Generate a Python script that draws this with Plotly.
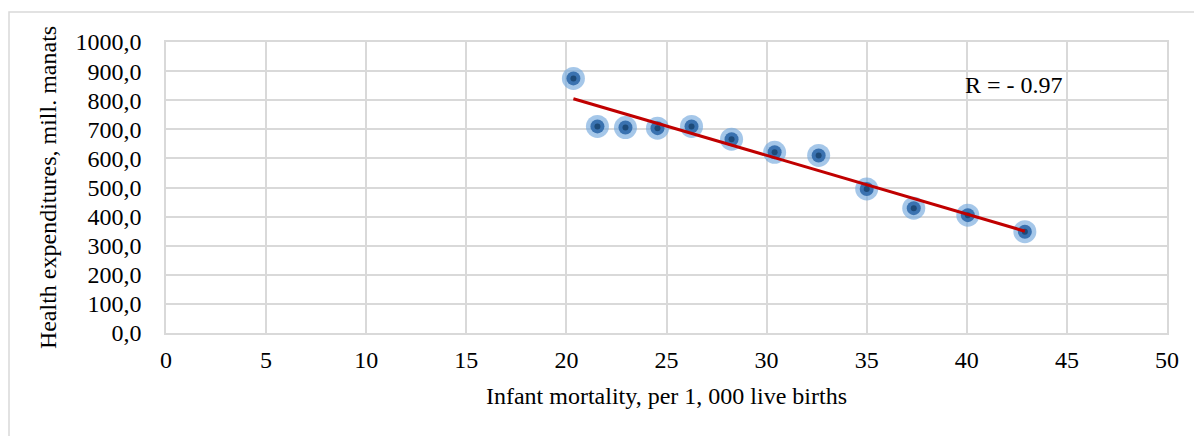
import numpy as np
import plotly.graph_objects as go

infant_mortality = [20.35, 21.55, 22.95, 24.55, 26.25, 28.25, 30.4, 32.6, 35.0, 37.35, 40.05, 42.9]
health_expenditures = [875, 710, 706, 704, 710, 666, 621, 610, 495, 429, 405, 348]
x_ticks = [0, 5, 10, 15, 20, 25, 30, 35, 40, 45, 50]
y_ticks = [0, 100, 200, 300, 400, 500, 600, 700, 800, 900, 1000]

FONT = "Liberation Serif, Times New Roman, serif"
FS = 24

slope, intercept = np.polyfit(infant_mortality, health_expenditures, 1)
x_fit = [min(infant_mortality), max(infant_mortality)]
y_fit = [slope * v + intercept for v in x_fit]

fig = go.Figure()
fig.add_trace(go.Scatter(x=infant_mortality, y=health_expenditures, mode="markers",
                         marker=dict(size=23, color="rgba(110,165,220,0.62)", line=dict(width=0)),
                         hoverinfo="skip", showlegend=False))
fig.add_trace(go.Scatter(x=infant_mortality, y=health_expenditures, mode="markers",
                         marker=dict(size=14, color="#3a72b0", line=dict(width=0)),
                         hoverinfo="skip", showlegend=False))
fig.add_trace(go.Scatter(x=infant_mortality, y=health_expenditures, mode="markers",
                         marker=dict(size=6, color="#1d4a78", line=dict(width=0)),
                         showlegend=False))
fig.add_trace(go.Scatter(x=x_fit, y=y_fit, mode="lines",
                         line=dict(color="#c00000", width=3), showlegend=False))

fig.add_annotation(x=39.8, y=852, xref="x", yref="y", xanchor="left", text="R = - 0.97",
                   showarrow=False, font=dict(family=FONT, size=FS, color="black"))

W, H = 1194, 428
L, R, T, B = 158, 35, 34, 103
pw, ph = W - L - R, H - T - B
fig.add_shape(type="rect", xref="paper", yref="paper",
              x0=(1 - L) / pw, x1=1.3, y0=-0.6, y1=1 + (T - 4) / ph,
              line=dict(color="#d9d9d9", width=1.5), layer="below")

fig.update_layout(
    width=W, height=H,
    margin=dict(l=L, r=R, t=T, b=B),
    paper_bgcolor="white", plot_bgcolor="white",
    separators=", ",
    font=dict(family=FONT, size=FS, color="black"),
    xaxis=dict(range=[0, 50], tickvals=x_ticks, showgrid=True, gridcolor="#d9d9d9", gridwidth=1.5,
               showline=True, linecolor="#d9d9d9", linewidth=1.5, mirror=True, zeroline=False,
               ticks="", ticklen=0, ticklabelstandoff=4,
               title=dict(text="Infant mortality, per 1, 000 live births", font=dict(size=FS), standoff=16),
               tickfont=dict(size=FS)),
    yaxis=dict(range=[0, 1000], tickvals=y_ticks, tickformat=".1f", showgrid=True, gridcolor="#d9d9d9",
               gridwidth=1.5, showline=True, linecolor="#d9d9d9", linewidth=1.5, mirror=True,
               zeroline=False, ticks="", ticklen=0, ticklabelstandoff=18,
               title=dict(text="Health expenditures, mill. manats", font=dict(size=FS), standoff=12),
               tickfont=dict(size=FS)),
)

fig.write_html("out.html")
